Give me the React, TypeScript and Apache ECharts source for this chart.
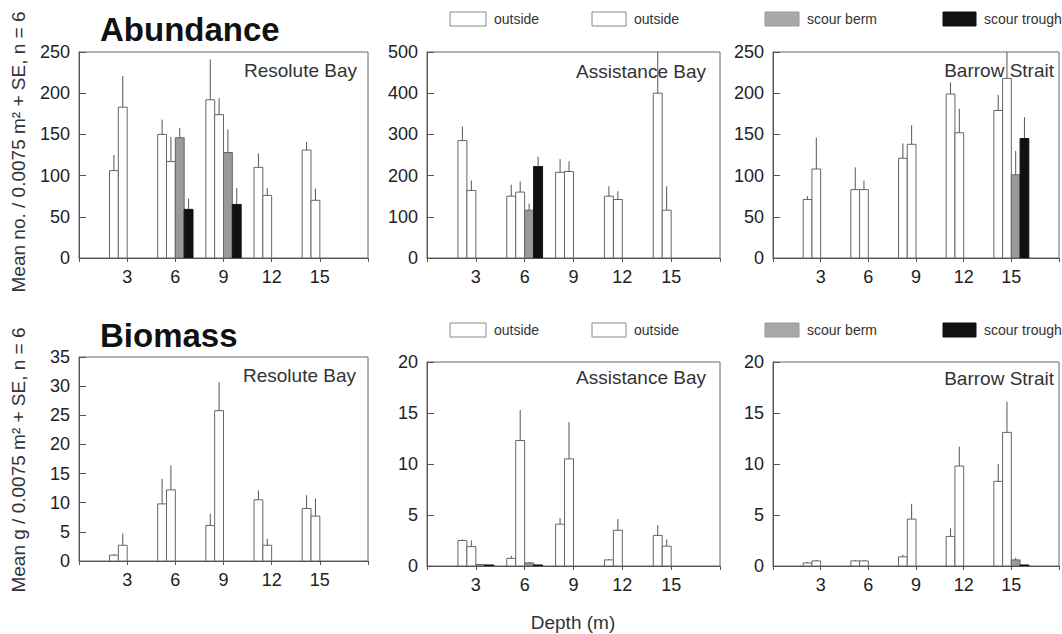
import React, { useEffect, useRef } from "react";
import * as echarts from "echarts";

const depths = [3, 6, 9, 12, 15];
const seriesNames = ["outside", "outside", "scour berm", "scour trough"];

// Abundance — Resolute Bay
const abResOut1 = [106, 150, 192, 110, 131];
const abResOut1SE = [19, 18, 49, 17, 10];
const abResOut2 = [183, 117, 174, 76, 70];
const abResOut2SE = [38, 30, 20, 9, 14];
const abResBerm = [0, 146, 128, 0, 0];
const abResBermSE = [0, 12, 28, 0, 0];
const abResTrough = [0, 59, 65, 0, 0];
const abResTroughSE = [0, 13, 20, 0, 0];

// Abundance — Assistance Bay
const abAssOut1 = [285, 150, 208, 150, 400];
const abAssOut1SE = [34, 28, 32, 24, 100];
const abAssOut2 = [164, 160, 210, 142, 116];
const abAssOut2SE = [24, 26, 25, 20, 58];
const abAssBerm = [0, 116, 0, 0, 0];
const abAssBermSE = [0, 16, 0, 0, 0];
const abAssTrough = [0, 222, 0, 0, 0];
const abAssTroughSE = [0, 24, 0, 0, 0];

// Abundance — Barrow Strait
const abBarOut1 = [71, 83, 121, 199, 179];
const abBarOut1SE = [4, 27, 18, 14, 19];
const abBarOut2 = [108, 83, 138, 152, 218];
const abBarOut2SE = [38, 11, 23, 29, 32];
const abBarBerm = [0, 0, 0, 0, 101];
const abBarBermSE = [0, 0, 0, 0, 29];
const abBarTrough = [0, 0, 0, 0, 145];
const abBarTroughSE = [0, 0, 0, 0, 26];

// Biomass — Resolute Bay
const bmResOut1 = [1.0, 9.8, 6.1, 10.5, 9.0];
const bmResOut1SE = [0.2, 4.3, 2.0, 1.6, 2.3];
const bmResOut2 = [2.7, 12.2, 25.8, 2.7, 7.7];
const bmResOut2SE = [2.0, 4.2, 4.9, 1.1, 3.0];
const bmResBerm = [0, 0, 0, 0, 0];
const bmResBermSE = [0, 0, 0, 0, 0];
const bmResTrough = [0, 0, 0, 0, 0];
const bmResTroughSE = [0, 0, 0, 0, 0];

// Biomass — Assistance Bay
const bmAssOut1 = [2.5, 0.75, 4.1, 0.6, 3.0];
const bmAssOut1SE = [0.1, 0.25, 0.6, 0.1, 1.0];
const bmAssOut2 = [1.9, 12.3, 10.5, 3.5, 1.95];
const bmAssOut2SE = [0.6, 3.0, 3.6, 1.1, 0.65];
const bmAssBerm = [0.15, 0.3, 0, 0, 0];
const bmAssBermSE = [0, 0.1, 0, 0, 0];
const bmAssTrough = [0.1, 0.1, 0, 0, 0];
const bmAssTroughSE = [0, 0, 0, 0, 0];

// Biomass — Barrow Strait
const bmBarOut1 = [0.3, 0.5, 0.9, 2.9, 8.3];
const bmBarOut1SE = [0.1, 0.1, 0.2, 0.8, 1.7];
const bmBarOut2 = [0.5, 0.5, 4.6, 9.8, 13.1];
const bmBarOut2SE = [0.1, 0.1, 1.5, 1.9, 3.0];
const bmBarBerm = [0, 0, 0, 0, 0.6];
const bmBarBermSE = [0, 0, 0, 0, 0.2];
const bmBarTrough = [0, 0, 0, 0, 0.1];
const bmBarTroughSE = [0, 0, 0, 0, 0];

const panelTitles = ["Resolute Bay", "Assistance Bay", "Barrow Strait", "Resolute Bay", "Assistance Bay", "Barrow Strait"];
const yMax = [250, 500, 250, 35, 20, 20];
const yInterval = [50, 100, 50, 5, 5, 5];

const panels = [
  [[abResOut1, abResOut1SE], [abResOut2, abResOut2SE], [abResBerm, abResBermSE], [abResTrough, abResTroughSE]],
  [[abAssOut1, abAssOut1SE], [abAssOut2, abAssOut2SE], [abAssBerm, abAssBermSE], [abAssTrough, abAssTroughSE]],
  [[abBarOut1, abBarOut1SE], [abBarOut2, abBarOut2SE], [abBarBerm, abBarBermSE], [abBarTrough, abBarTroughSE]],
  [[bmResOut1, bmResOut1SE], [bmResOut2, bmResOut2SE], [bmResBerm, bmResBermSE], [bmResTrough, bmResTroughSE]],
  [[bmAssOut1, bmAssOut1SE], [bmAssOut2, bmAssOut2SE], [bmAssBerm, bmAssBermSE], [bmAssTrough, bmAssTroughSE]],
  [[bmBarOut1, bmBarOut1SE], [bmBarOut2, bmBarOut2SE], [bmBarBerm, bmBarBermSE], [bmBarTrough, bmBarTroughSE]],
];

const FONT = "'Liberation Sans', Arial, sans-serif";
const fills = ["#ffffff", "#ffffff", "#9a9a9a", "#111111"];
const strokes = ["#666666", "#666666", "#666666", "#111111"];
const offsets = [-1.1, -0.55, 0, 0.55];
const BW = 0.55;

const grids = [
  { left: 79, top: 52, width: 289, height: 206 },
  { left: 427, top: 52, width: 293, height: 206 },
  { left: 773, top: 52, width: 293, height: 206 },
  { left: 79, top: 357, width: 289, height: 204 },
  { left: 427, top: 362, width: 293, height: 204 },
  { left: 773, top: 362, width: 293, height: 204 },
];
const labelPos = [
  [357, 70], [706, 71], [1054, 70], [356, 375], [706, 377], [1054, 378],
];

export default function App() {
  const ref = useRef<HTMLDivElement>(null);
  useEffect(() => {
    if (!ref.current) return;
    const chart = echarts.init(ref.current, null, { renderer: "svg" });

    const series: any[] = [];
    panels.forEach((panel, pi) => {
      panel.forEach(([means, ses], si) => {
        const data = depths
          .map((d, i) => [d, means[i], ses[i]])
          .filter((r) => (r[1] as number) > 0);
        series.push({
          type: "custom",
          name: seriesNames[si],
          xAxisIndex: pi,
          yAxisIndex: pi,
          clip: true,
          encode: { x: 0, y: 1 },
          data,
          renderItem: (params: any, api: any) => {
            const d = api.value(0);
            const v = api.value(1);
            const se = api.value(2);
            const x0 = d + offsets[si];
            const p0 = api.coord([x0, 0]);
            const p1 = api.coord([x0 + BW, v]);
            const pe = api.coord([x0 + BW / 2, v + se]);
            const children: any[] = [
              {
                type: "rect",
                shape: { x: p0[0], y: p1[1], width: p1[0] - p0[0], height: p0[1] - p1[1] },
                style: { fill: fills[si], stroke: strokes[si], lineWidth: 1 },
              },
            ];
            if (se > 0) {
              children.push({
                type: "line",
                shape: { x1: pe[0], y1: p1[1], x2: pe[0], y2: pe[1] },
                style: { stroke: "#555", lineWidth: 1 },
              });
            }
            return { type: "group", children };
          },
        });
      });
    });

    const legendItems = [
      { x: 450, w: 36, text: "outside", fill: "#ffffff", stroke: "#888" },
      { x: 592, w: 34, text: "outside", fill: "#ffffff", stroke: "#888" },
      { x: 765, w: 34, text: "scour berm", fill: "#a8a8a8", stroke: "#999" },
      { x: 943, w: 33, text: "scour trough", fill: "#111111", stroke: "#111" },
    ];
    const graphics: any[] = [];
    [12, 323].forEach((ly) => {
      legendItems.forEach((it) => {
        graphics.push({
          type: "rect",
          shape: { x: it.x, y: ly, width: it.w, height: 14 },
          style: { fill: it.fill, stroke: it.stroke, lineWidth: 1 },
        });
        graphics.push({
          type: "text",
          x: it.x + it.w + 8,
          y: ly + 7,
          style: { text: it.text, font: `14px ${FONT}`, fill: "#333", verticalAlign: "middle" },
        });
      });
    });
    graphics.push({
      type: "text", x: 100, y: 29,
      style: { text: "Abundance", font: `bold 33px ${FONT}`, fill: "#111", verticalAlign: "middle" },
    });
    graphics.push({
      type: "text", x: 100, y: 335,
      style: { text: "Biomass", font: `bold 33px ${FONT}`, fill: "#111", verticalAlign: "middle" },
    });
    graphics.push({
      type: "text", x: 18, y: 152, rotation: Math.PI / 2,
      style: { text: "Mean no. / 0.0075 m² + SE, n = 6", font: `19px ${FONT}`, fill: "#333", align: "center", verticalAlign: "middle" },
    });
    graphics.push({
      type: "text", x: 18, y: 460, rotation: Math.PI / 2,
      style: { text: "Mean g / 0.0075 m² + SE, n = 6", font: `19px ${FONT}`, fill: "#333", align: "center", verticalAlign: "middle" },
    });
    graphics.push({
      type: "text", x: 573, y: 622,
      style: { text: "Depth (m)", font: `19px ${FONT}`, fill: "#333", align: "center", verticalAlign: "middle" },
    });
    panelTitles.forEach((t, i) => {
      graphics.push({
        type: "text", x: labelPos[i][0], y: labelPos[i][1],
        style: { text: t, font: `19px ${FONT}`, fill: "#333", align: "right", verticalAlign: "middle" },
      });
    });

    chart.setOption({
      animation: false,
      backgroundColor: "#ffffff",
      grid: grids.map((g) => ({ ...g, show: true, borderColor: "#666", borderWidth: 1, backgroundColor: "transparent" })),
      xAxis: grids.map((_, i) => ({
        type: "value",
        gridIndex: i,
        min: 0,
        max: 18,
        interval: 3,
        axisLine: { show: true, lineStyle: { color: "#555", width: 1 } },
        axisTick: { show: true, inside: false, length: 4, lineStyle: { color: "#555" } },
        axisLabel: {
          fontSize: 18, fontFamily: FONT, color: "#222", margin: 10,
          formatter: (v: number) => (v === 0 || v === 18 ? "" : String(v)),
        },
        splitLine: { show: false },
      })),
      yAxis: grids.map((_, i) => ({
        type: "value",
        gridIndex: i,
        min: 0,
        max: yMax[i],
        interval: yInterval[i],
        axisLine: { show: true, lineStyle: { color: "#555", width: 1 } },
        axisTick: { show: true, inside: true, length: 7, lineStyle: { color: "#555" } },
        axisLabel: { fontSize: 18, fontFamily: FONT, color: "#222", margin: 9, showMinLabel: true, showMaxLabel: true },
        splitLine: { show: false },
      })),
      graphic: graphics,
      series,
    });

    return () => chart.dispose();
  }, []);

  return (
    <div
      ref={ref}
      style={{ position: "fixed", left: 0, top: 0, width: 1062, height: 634, background: "#fff" }}
    />
  );
}
